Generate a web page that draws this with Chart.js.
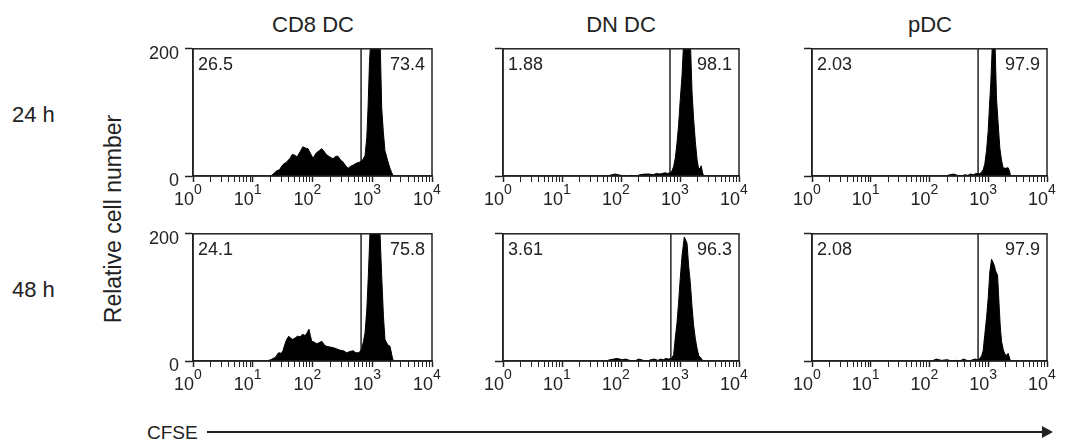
<!DOCTYPE html>
<html lang="en">
<head>
  <meta charset="UTF-8">
  <title>CFSE dilution by DC subset</title>
  <script src="https://cdn.jsdelivr.net/npm/chart.js"></script>
  <style>
    body {
      margin: 0;
      width: 1071px;
      height: 447px;
      position: relative;
      background: #ffffff;
      font-family: 'Liberation Sans', Arial, Helvetica, sans-serif;
      color: #222;
      overflow: hidden;
    }
    canvas { position: absolute; }
    .lbl { position: absolute; white-space: nowrap; font-size: 22px; line-height: 1; }
    .title { transform: translateX(-50%); }
    .ytitle { transform: translate(-50%, -50%) rotate(-90deg); font-size: 23px; }
    .arrow { position: absolute; left: 207px; top: 431px; width: 836px; height: 2px; background: #222; }
    .arrow:after {
      content: ''; position: absolute; right: -10px; top: -5px;
      border-left: 11px solid #222; border-top: 6px solid transparent; border-bottom: 6px solid transparent;
    }
  </style>
</head>
<body>

  <div class="lbl title" style="left:313px; top:14px;">CD8 DC</div>
  <div class="lbl title" style="left:621px; top:14px;">DN DC</div>
  <div class="lbl title" style="left:930px; top:14px;">pDC</div>

  <div class="lbl" style="left:12px; top:104px;">24 h</div>
  <div class="lbl" style="left:12px; top:279px;">48 h</div>
  <div class="lbl ytitle" style="left:113px; top:219px;">Relative cell number</div>

  <div class="lbl" style="left:147px; top:423px; font-size:19px;">CFSE</div>
  <div class="arrow"></div>

  <canvas id="cd8_24" width="309" height="189" style="left:143px; top:32px;"></canvas>
  <canvas id="dn_24" width="306" height="189" style="left:453px; top:32px;"></canvas>
  <canvas id="pdc_24" width="305" height="189" style="left:762px; top:32px;"></canvas>
  <canvas id="cd8_48" width="309" height="189" style="left:143px; top:217px;"></canvas>
  <canvas id="dn_48" width="306" height="189" style="left:453px; top:217px;"></canvas>
  <canvas id="pdc_48" width="305" height="189" style="left:762px; top:217px;"></canvas>

  <script>
    // CFSE axis: log decades and minor tick positions
    const decadeExps = [0, 1, 2, 3, 4];
    const decadeStarts = [1, 10, 100, 1000];
    const minorSteps = [1, 2, 3, 4, 5, 6, 7, 8, 9];
    const yTickValues = [0, 200];

    // CD8 DC, 24 h
    const cd8_24_x = [20, 22, 25, 28, 32, 37, 42, 46, 50, 55, 62, 69, 76, 84, 93, 102, 115, 130, 143, 158, 173, 195, 220, 245, 267, 295, 324, 360, 393, 430, 476, 540, 624, 700, 757, 810, 850, 900, 980, 1100, 1260, 1350, 1440, 1530, 1630, 1800, 1980, 2100, 2250];
    const cd8_24_y = [0, 3, 8, 10, 18, 22, 28, 34, 33, 30, 38, 46, 44, 43, 35, 28, 36, 40, 43, 38, 33, 30, 27, 31, 31, 25, 22, 16, 12, 15, 17, 20, 22, 26, 32, 60, 107, 180, 240, 260, 250, 220, 107, 70, 40, 25, 12, 6, 0];
    // CD8 DC, 48 h
    const cd8_48_x = [17, 20, 24, 27, 30, 32, 35, 37, 40, 42, 46, 51, 56, 62, 68, 75, 81, 87, 92, 97, 105, 118, 130, 143, 158, 173, 195, 223, 255, 289, 330, 374, 425, 482, 530, 584, 630, 666, 710, 757, 810, 859, 942, 1100, 1300, 1439, 1540, 1633, 1800, 1982, 2198, 2312];
    const cd8_48_y = [0, 2, 6, 13, 12, 16, 28, 34, 39, 37, 34, 36, 39, 38, 42, 40, 44, 50, 40, 31, 30, 27, 29, 31, 25, 23, 22, 21, 19, 17, 16, 13, 15, 16, 13, 13, 15, 19, 30, 44, 80, 133, 230, 260, 240, 133, 70, 34, 26, 23, 3, 0];
    // DN DC, 24 h
    const dn_24_x = [60, 70, 80, 90, 100, 110, 130, 150, 180, 210, 250, 300, 350, 400, 450, 500, 560, 620, 680, 731, 780, 832, 890, 947, 1010, 1082, 1151, 1300, 1496, 1600, 1700, 1820, 1950, 2070, 2180, 2290, 2400, 2510];
    const dn_24_y = [0, 2, 3, 2, 1, 0, 0, 1, 0, 2, 3, 3, 2, 4, 3, 4, 5, 4, 5, 8, 15, 28, 52, 80, 120, 158, 210, 240, 215, 132, 90, 54, 25, 11, 12, 16, 6, 0];
    // DN DC, 48 h
    const dn_48_x = [55, 65, 75, 85, 95, 105, 120, 140, 170, 200, 240, 280, 320, 370, 420, 470, 520, 580, 640, 700, 731, 780, 832, 890, 947, 1010, 1082, 1183, 1250, 1315, 1400, 1496, 1600, 1702, 1820, 1945, 2080, 2213, 2455];
    const dn_48_y = [0, 2, 3, 4, 3, 2, 3, 1, 0, 3, 1, 0, 2, 3, 1, 3, 2, 4, 3, 4, 5, 10, 36, 60, 92, 130, 165, 195, 190, 185, 150, 123, 85, 56, 35, 20, 8, 6, 0];
    // pDC, 24 h
    const pdc_24_x = [190, 220, 260, 300, 350, 400, 450, 500, 560, 620, 680, 720, 769, 820, 875, 935, 996, 1050, 1107, 1183, 1294, 1384, 1480, 1574, 1680, 1791, 1950, 2177, 2300, 2392];
    const pdc_24_y = [0, 2, 3, 1, 0, 2, 1, 3, 2, 4, 3, 4, 6, 10, 19, 40, 70, 110, 148, 215, 220, 121, 80, 44, 25, 13, 12, 13, 8, 0];
    // pDC, 48 h
    const pdc_48_x = [110, 130, 160, 200, 240, 280, 330, 380, 430, 480, 540, 600, 660, 720, 770, 819, 870, 936, 1000, 1064, 1138, 1211, 1270, 1330, 1390, 1439, 1531, 1600, 1682, 1800, 1914, 2050, 2177, 2392];
    const pdc_48_y = [0, 3, 1, 2, 0, 1, 0, 3, 1, 0, 2, 3, 2, 4, 8, 16, 40, 68, 100, 140, 160, 155, 150, 142, 138, 135, 88, 55, 31, 18, 11, 9, 12, 0];

    // gate positions and percentages
    const gates = { cd8_24: 650, dn_24: 676, pdc_24: 671, cd8_48: 650, dn_48: 700, pdc_48: 671 };
    const pctLeft = { cd8_24: '26.5', dn_24: '1.88', pdc_24: '2.03', cd8_48: '24.1', dn_48: '3.61', pdc_48: '2.08' };
    const pctRight = { cd8_24: '73.4', dn_24: '98.1', pdc_24: '97.9', cd8_48: '75.8', dn_48: '96.3', pdc_48: '97.9' };

    const ink = '#222';
    const fontFam = "'Liberation Sans', Arial, Helvetica, sans-serif";
    const xTickValues = [];
    decadeStarts.forEach(d => minorSteps.forEach(m => xTickValues.push(d * m)));
    xTickValues.push(10000);

    // frame, percentages and 10^n labels
    const panelDecor = {
      id: 'panelDecor',
      afterDraw(chart) {
        const { ctx, chartArea: a, scales } = chart;
        const key = chart.canvas.id;
        ctx.save();
        ctx.strokeStyle = ink;
        ctx.lineWidth = 1.5;
        ctx.strokeRect(a.left, a.top, a.right - a.left, a.bottom - a.top);

        ctx.fillStyle = ink;
        ctx.font = '18px ' + fontFam;
        ctx.textBaseline = 'top';
        ctx.textAlign = 'left';
        ctx.fillText(pctLeft[key], a.left + 5, a.top + 7);
        ctx.textAlign = 'right';
        ctx.fillText(pctRight[key], a.right - 7, a.top + 7);

        ctx.textBaseline = 'alphabetic';
        decadeExps.forEach(e => {
          const px = scales.x.getPixelForValue(Math.pow(10, e));
          ctx.font = '18px ' + fontFam;
          ctx.textAlign = 'right';
          ctx.fillText('10', px + 1, a.bottom + 29);
          ctx.font = '14px ' + fontFam;
          ctx.textAlign = 'left';
          ctx.fillText(String(e), px + 1, a.bottom + 18);
        });
        ctx.restore();
      }
    };

    function makePanel(id, xs, ys, showY) {
      const hist = xs.map((x, i) => ({ x: x, y: ys[i] }));
      const gate = [{ x: gates[id], y: 0 }, { x: gates[id], y: 200 }];
      new Chart(document.getElementById(id), {
        type: 'line',
        data: {
          datasets: [
            {
              data: hist,
              borderColor: '#000',
              backgroundColor: '#000',
              borderWidth: 1,
              fill: 'origin',
              pointRadius: 0,
              tension: 0
            },
            {
              data: gate,
              borderColor: ink,
              borderWidth: 1.5,
              fill: false,
              pointRadius: 0
            }
          ]
        },
        options: {
          responsive: false,
          animation: false,
          layout: { padding: { left: 0, top: 15, right: 20, bottom: 0 } },
          plugins: { legend: { display: false }, tooltip: { enabled: false } },
          scales: {
            x: {
              type: 'logarithmic',
              min: 1,
              max: 10000,
              afterBuildTicks: s => { s.ticks = xTickValues.map(v => ({ value: v })); },
              afterFit: s => { s.height = 45; },
              ticks: { display: false },
              border: { color: ink, width: 1.5 },
              grid: {
                drawOnChartArea: false,
                drawTicks: true,
                tickLength: 6,
                tickColor: ink,
                tickWidth: c => (Number.isInteger(Math.log10(c.tick.value)) ? 1.5 : 1)
              }
            },
            y: {
              min: 0,
              max: 200,
              afterBuildTicks: s => { s.ticks = yTickValues.map(v => ({ value: v })); },
              afterFit: s => { s.width = 50; },
              ticks: {
                color: showY ? ink : 'rgba(0,0,0,0)',
                font: { family: fontFam, size: 18 },
                padding: 6,
                labelOffset: 5
              },
              border: { color: ink, width: 1.5 },
              grid: { drawOnChartArea: false, drawTicks: true, tickLength: 8, tickColor: ink, tickWidth: 1.5 }
            }
          }
        },
        plugins: [panelDecor]
      });
    }

    makePanel('cd8_24', cd8_24_x, cd8_24_y, true);
    makePanel('dn_24', dn_24_x, dn_24_y, false);
    makePanel('pdc_24', pdc_24_x, pdc_24_y, false);
    makePanel('cd8_48', cd8_48_x, cd8_48_y, true);
    makePanel('dn_48', dn_48_x, dn_48_y, false);
    makePanel('pdc_48', pdc_48_x, pdc_48_y, false);
  </script>

</body>
</html>
